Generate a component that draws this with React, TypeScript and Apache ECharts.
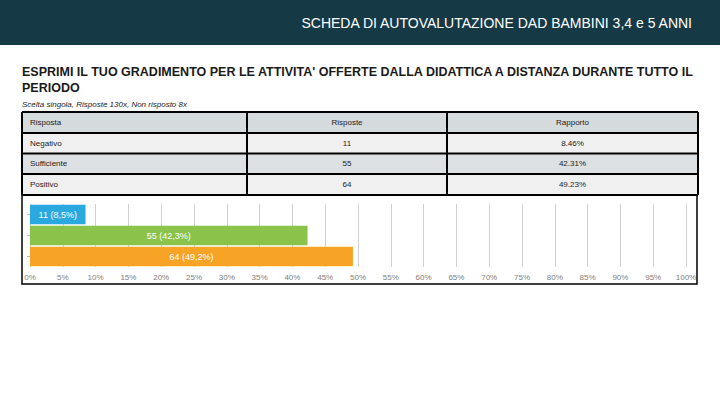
import { useEffect, useRef } from "react";
import * as echarts from "echarts";

const headerTitle = "SCHEDA DI AUTOVALUTAZIONE DAD BAMBINI 3,4 e 5 ANNI";
const questionLines = [
  "ESPRIMI IL TUO GRADIMENTO PER LE ATTIVITA' OFFERTE DALLA DIDATTICA A DISTANZA DURANTE TUTTO IL",
  "PERIODO",
];
const subtitle = "Scelta singola, Risposte 130x, Non risposto 8x";
const tableHeaders = ["Risposta", "Risposte", "Rapporto"];
const categories = ["Negativo", "Sufficiente", "Positivo"];
const counts = [11, 55, 64];
const ratios = ["8.46%", "42.31%", "49.23%"];
const percentValues = [8.46, 42.31, 49.23];
const barLabels = ["11 (8,5%)", "55 (42,3%)", "64 (49,2%)"];
const barColors = ["#2aa8e0", "#8bc34a", "#f7a326"];

const FONT = "'Liberation Sans', Arial, sans-serif";

export default function App() {
  const ref = useRef<HTMLDivElement>(null);
  useEffect(() => {
    if (!ref.current) return;
    const chart = echarts.init(ref.current, undefined, { renderer: "svg" });

    const tX0 = 22, tX1 = 698;
    const colX = [tX0, 247, 447, tX1];
    const rowY = [112, 133, 153.5, 174, 195];
    const rowFills = ["#d5dadd", "#f0f0f0", "#dde1e3", "#f0f0f0"];
    const g: any[] = [];

    // header band
    g.push({ type: "rect", shape: { x: 0, y: 0, width: 720, height: 45 }, style: { fill: "#153a46" }, silent: true });
    g.push({
      type: "text",
      style: { text: headerTitle, x: 692, y: 23, fill: "#ffffff", font: `14px ${FONT}`, textAlign: "right", textVerticalAlign: "middle" },
    });
    questionLines.forEach((t, i) => {
      g.push({
        type: "text",
        style: { text: t, x: 22, y: 72 + i * 16, fill: "#1a1a1a", font: `bold 12.5px ${FONT}`, textAlign: "left", textVerticalAlign: "middle" },
      });
    });
    g.push({
      type: "text",
      style: { text: subtitle, x: 22, y: 104, fill: "#222222", font: `italic 8px ${FONT}`, textAlign: "left", textVerticalAlign: "middle" },
    });

    // table rows
    const rows: string[][] = [tableHeaders, ...categories.map((c, i) => [c, String(counts[i]), ratios[i]])];
    rows.forEach((r, ri) => {
      g.push({ type: "rect", shape: { x: tX0, y: rowY[ri], width: tX1 - tX0, height: rowY[ri + 1] - rowY[ri] }, style: { fill: rowFills[ri] }, silent: true });
      const cy = (rowY[ri] + rowY[ri + 1]) / 2;
      g.push({ type: "text", style: { text: r[0], x: 30, y: cy, fill: "#222", font: `8px ${FONT}`, textAlign: "left", textVerticalAlign: "middle" } });
      g.push({ type: "text", style: { text: r[1], x: (colX[1] + colX[2]) / 2, y: cy, fill: "#222", font: `8px ${FONT}`, textAlign: "center", textVerticalAlign: "middle" } });
      g.push({ type: "text", style: { text: r[2], x: (colX[2] + colX[3]) / 2, y: cy, fill: "#222", font: `8px ${FONT}`, textAlign: "center", textVerticalAlign: "middle" } });
    });
    rowY.forEach((y) => {
      g.push({ type: "line", shape: { x1: tX0, y1: y, x2: tX1, y2: y }, style: { stroke: "#000", lineWidth: 2 }, silent: true });
    });
    colX.forEach((x) => {
      g.push({ type: "line", shape: { x1: x, y1: rowY[0], x2: x, y2: rowY[4] }, style: { stroke: "#000", lineWidth: 2 }, silent: true });
    });
    // chart box
    g.push({ type: "rect", shape: { x: 22, y: 195, width: 675, height: 89 }, style: { fill: "none", stroke: "#000", lineWidth: 1.5 }, silent: true });

    chart.setOption({
      animation: false,
      grid: { left: 30, right: 34, top: 204, bottom: 138, containLabel: false },
      xAxis: {
        type: "value",
        min: 0,
        max: 100,
        interval: 5,
        axisLabel: { formatter: "{value}%", color: "#808080", fontSize: 8, fontFamily: FONT, margin: 6 },
        splitLine: { show: true, lineStyle: { color: "#d0d0d0", width: 1 } },
        axisLine: { show: false },
        axisTick: { show: false },
      },
      yAxis: {
        type: "category",
        inverse: true,
        data: categories,
        axisLabel: { show: false },
        axisLine: { show: false },
        axisTick: { show: true, length: 3, lineStyle: { color: "#bbb" }, alignWithLabel: true },
      },
      series: [
        {
          type: "bar",
          barCategoryGap: "6%",
          data: percentValues.map((v, i) => ({ value: v, itemStyle: { color: barColors[i] } })),
          label: {
            show: true,
            position: "inside",
            color: "#ffffff",
            fontSize: 9,
            fontFamily: FONT,
            formatter: (p: any) => barLabels[p.dataIndex],
          },
        },
      ],
      graphic: g,
    });
    return () => chart.dispose();
  }, []);
  return <div ref={ref} style={{ position: "fixed", left: 0, top: 0, width: 720, height: 405, background: "#fff" }} />;
}
